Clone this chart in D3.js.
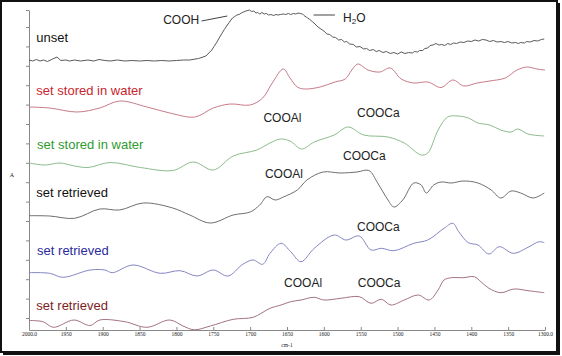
<!DOCTYPE html>
<html><head><meta charset="utf-8">
<script src="https://cdn.jsdelivr.net/npm/d3@7"></script>
<style>html,body{margin:0;padding:0;background:#fff;}svg{display:block;}</style>
</head><body>
<svg id="c" width="562" height="356"></svg>
<script>
// ---- data ----
const xTickValues = [2000,1950,1900,1850,1800,1750,1700,1650,1600,1550,1500,1450,1400,1350,1300];
const xTickLabels = ["2000.0","1950","1900","1850","1800","1750","1700","1650","1600","1550","1500","1450","1400","1350","1300.0"];
const yTickValues = [1.2,3.14,5.08,7.02,8.96,10.9,12.84,14.78,16.72,18.66,20.6,22.54,24.48,26.42,28.36,30.3,32.0];
const seriesNames = ["unset","set stored in water","set stored in water","set retrieved","set retrieved","set retrieved"];

const unsetData = [[2000,27.0],[1995,26.9],[1990,27.05],[1985,26.9],[1980,27.0],[1975,26.85],[1968,27.1],[1962,27.3],[1957,26.95],[1950,27.0],[1945,26.9],[1938,27.0],[1930,26.9],[1920,27.0],[1912,26.9],[1905,27.05],[1897,26.95],[1890,26.9],[1880,27.0],[1870,26.9],[1860,26.95],[1850,26.9],[1840,26.95],[1830,26.9],[1820,26.95],[1810,26.9],[1800,26.95],[1790,27.0],[1782,27.0],[1770,27.15],[1760,27.4],[1756,27.7],[1752,28.0],[1749,28.35],[1745,28.8],[1742,29.2],[1738,29.7],[1735,30.05],[1731,30.5],[1728,30.8],[1724,31.2],[1721,31.35],[1718,31.5],[1715,31.55],[1712,31.7],[1709,31.8],[1706,31.9],[1703,31.95],[1701,32.0],[1698,31.85],[1695,31.9],[1692,31.7],[1690,31.75],[1687,31.6],[1684,31.75],[1681,31.6],[1678,31.65],[1675,31.5],[1672,31.55],[1668,31.45],[1665,31.55],[1662,31.5],[1659,31.55],[1655,31.6],[1652,31.55],[1648,31.65],[1645,31.55],[1641,31.65],[1638,31.6],[1635,31.7],[1632,31.65],[1629,31.6],[1627,31.45],[1624,31.3],[1622,31.2],[1619,31.05],[1615,30.8],[1612,30.6],[1608,30.3],[1604,30.1],[1600,29.9],[1596,29.6],[1592,29.55],[1588,29.3],[1584,29.25],[1580,29.0],[1576,29.05],[1572,28.8],[1569,28.85],[1565,28.6],[1560,28.55],[1556,28.3],[1551,28.35],[1546,28.1],[1542,28.15],[1538,27.95],[1533,28.05],[1529,27.85],[1525,27.95],[1520,27.75],[1515,27.85],[1510,27.65],[1505,27.75],[1500,27.6],[1495,27.8],[1490,27.65],[1485,27.75],[1480,27.7],[1477,27.85],[1473,27.8],[1470,27.95],[1466,27.95],[1463,28.15],[1459,28.2],[1456,28.45],[1452,28.5],[1448,28.65],[1444,28.5],[1440,28.55],[1436,28.45],[1432,28.65],[1428,28.55],[1424,28.7],[1420,28.65],[1415,28.8],[1410,28.75],[1405,28.9],[1400,28.85],[1395,29.0],[1390,28.9],[1385,29.05],[1380,29.0],[1375,28.85],[1370,28.95],[1365,28.8],[1360,28.85],[1355,28.75],[1350,28.85],[1345,28.7],[1340,28.75],[1336,28.65],[1333,28.75],[1328,28.7],[1325,28.85],[1320,28.8],[1315,28.95],[1310,28.9],[1305,29.05],[1301,29.1]];

const waterRedData = [[2000,22.3],[1972,22.2],[1935,21.8],[1904,22.2],[1877,22.9],[1840,22.3],[1809,21.7],[1775,21.3],[1750,22.2],[1727,22.6],[1700,22.5],[1683,23.2],[1670,24.7],[1655,26.1],[1646,25.2],[1636,24.3],[1626,24.1],[1605,24.3],[1585,24.8],[1571,25.1],[1562,26.0],[1554,26.6],[1540,26.0],[1524,25.8],[1510,26.2],[1495,25.1],[1478,24.7],[1459,24.8],[1441,24.25],[1425,25.0],[1410,24.4],[1392,24.7],[1375,24.9],[1354,25.2],[1338,26.0],[1324,26.3],[1311,26.1],[1300,26.0]];

const waterGreenData = [[2000,16.7],[1978,16.5],[1958,16.7],[1938,16.4],[1920,16.25],[1890,16.75],[1849,16.25],[1805,15.95],[1777,16.8],[1750,16.0],[1723,17.4],[1691,18.0],[1673,18.7],[1659,19.1],[1646,18.9],[1630,18.1],[1613,18.8],[1586,19.5],[1567,20.3],[1546,19.5],[1513,19.3],[1491,18.7],[1468,17.5],[1459,17.7],[1445,20.0],[1432,21.3],[1418,21.4],[1404,21.2],[1391,20.7],[1375,20.5],[1360,20.0],[1346,19.8],[1337,20.1],[1323,19.6],[1301,19.4]];

const retrievedBlackData = [[2000,11.43],[1972,11.4],[1938,11.17],[1904,12.1],[1877,12.0],[1845,12.7],[1805,12.2],[1782,11.5],[1754,10.7],[1723,11.5],[1700,11.8],[1687,12.5],[1677,13.33],[1666,13.0],[1655,13.3],[1636,14.0],[1623,15.0],[1601,15.8],[1578,15.7],[1555,15.8],[1539,15.95],[1527,14.7],[1513,13.0],[1505,12.3],[1493,13.0],[1478,14.7],[1468,14.5],[1461,13.7],[1451,14.5],[1441,14.8],[1427,14.7],[1411,14.9],[1391,14.7],[1373,14.0],[1360,13.2],[1346,13.9],[1333,13.7],[1316,13.2],[1301,13.7]];

const retrievedBlueData = [[2000,5.73],[1972,5.67],[1954,5.27],[1917,6.0],[1897,6.0],[1887,5.73],[1859,6.5],[1822,5.67],[1795,5.93],[1772,5.4],[1750,6.0],[1730,5.4],[1710,6.57],[1696,7.0],[1683,6.57],[1673,7.67],[1658,8.67],[1645,7.83],[1631,6.83],[1613,8.17],[1586,9.5],[1570,9.0],[1552,9.4],[1536,8.0],[1522,8.17],[1505,7.93],[1478,8.67],[1459,9.0],[1437,10.17],[1425,10.67],[1417,9.83],[1404,8.73],[1391,8.5],[1376,7.6],[1362,8.33],[1343,7.67],[1323,8.27],[1308,8.83],[1301,8.73]];

const retrievedRedData = [[2000,0.95],[1981,0.83],[1967,0.27],[1939,1.0],[1917,0.45],[1904,1.0],[1870,0.83],[1840,0.27],[1809,1.0],[1791,0.4],[1776,0.02],[1754,0.4],[1723,1.07],[1696,1.27],[1673,2.17],[1658,2.5],[1645,2.83],[1631,3.0],[1613,3.27],[1600,3.0],[1577,3.17],[1552,3.33],[1536,2.67],[1522,3.07],[1509,2.5],[1491,3.0],[1472,3.5],[1457,3.0],[1445,4.0],[1437,5.0],[1427,5.23],[1411,5.23],[1396,5.33],[1387,4.83],[1376,4.17],[1360,3.73],[1342,4.1],[1323,3.93],[1301,3.73]];

// annotations: [text, wavenumber, value]
const annotations = [["COOH",1818,30.6],["COOAl",1682,20.85],["COOCa",1555,21.3],["COOAl",1680,15.2],["COOCa",1574,17.0],["COOCa",1555,9.9],["COOAl",1654,4.3],["COOCa",1554,4.3]];

// ---- drawing ----
const svg = d3.select("#c");
const x = d3.scaleLinear().domain([2000,1300]).range([29,545]);
const y = d3.scaleLinear().domain([0,32]).range([330,10]);

// frame
svg.append("rect").attr("x",1).attr("y",1).attr("width",556).attr("height",351)
  .attr("fill","none").attr("stroke","#111").attr("stroke-width",2);
svg.append("rect").attr("x",557).attr("y",3).attr("width",3).attr("height",352).attr("fill","#111");
svg.append("rect").attr("x",3).attr("y",352).attr("width",557).attr("height",3).attr("fill","#111");

// axes
const xAxis = d3.axisBottom(x).tickValues(xTickValues).tickSizeInner(-3).tickSizeOuter(0)
  .tickPadding(4).tickFormat((d,i)=>xTickLabels[i]);
const gx = svg.append("g").attr("transform","translate(0,330)").call(xAxis);
gx.selectAll("path,line").attr("stroke","#888");
gx.selectAll("text").attr("font-family","Liberation Serif").attr("font-size",5.5).attr("fill","#222").attr("dy","0.4em");

const yAxis = d3.axisLeft(y).tickValues(yTickValues).tickSizeInner(3).tickSizeOuter(0).tickFormat("");
const gy = svg.append("g").attr("transform","translate(29,0)").call(yAxis);
gy.selectAll("path,line").attr("stroke","#888");

svg.append("text").attr("x",287).attr("y",347).attr("text-anchor","middle")
  .attr("font-family","Liberation Serif").attr("font-size",5.5).attr("fill","#222").text("cm-1");
svg.append("text").attr("x",12).attr("y",177).attr("text-anchor","middle")
  .attr("font-family","Liberation Serif").attr("font-size",6).attr("fill","#222").text("A");

// spectra
const series = [
  {data: unsetData, color:"#5a5a5a", curve: d3.curveLinear},
  {data: waterRedData, color:"#c87a88", curve: d3.curveCatmullRom.alpha(0.5)},
  {data: waterGreenData, color:"#8cbc8c", curve: d3.curveCatmullRom.alpha(0.5)},
  {data: retrievedBlackData, color:"#6e6e6e", curve: d3.curveCatmullRom.alpha(0.5)},
  {data: retrievedBlueData, color:"#8585c4", curve: d3.curveCatmullRom.alpha(0.5)},
  {data: retrievedRedData, color:"#a4737e", curve: d3.curveCatmullRom.alpha(0.5)}
];
series.forEach(s=>{
  const line = d3.line().x(d=>x(d[0])).y(d=>y(d[1])).curve(s.curve);
  svg.append("path").datum(s.data).attr("d",line).attr("fill","none")
    .attr("stroke",s.color).attr("stroke-width",1);
});

// series labels: [wavenumber, value, color]
const labelPos = [[1990,28.8,"#111"],[1990,23.5,"#c8262e"],[1989,18.1,"#2f9a2f"],[1990,13.35,"#111"],[1989,7.55,"#2b2b9e"],[1990,2.0,"#7d1d24"]];
seriesNames.forEach((n,i)=>{
  svg.append("text").attr("x",x(labelPos[i][0])).attr("y",y(labelPos[i][1]))
    .attr("font-family","Liberation Sans, Arial, sans-serif").attr("font-size",13)
    .attr("fill",labelPos[i][2]).text(n);
});

// annotations
const af = "Liberation Sans, Arial, sans-serif";
annotations.forEach(a=>{
  svg.append("text").attr("x",x(a[1])).attr("y",y(a[2])).attr("font-family",af)
    .attr("font-size",12).attr("fill","#222").text(a[0]);
});
const h2o = svg.append("text").attr("x",x(1574)).attr("y",y(30.8)).attr("font-family",af)
  .attr("font-size",12).attr("fill","#222");
h2o.append("tspan").text("H");
h2o.append("tspan").attr("font-size",8).attr("dy",2).text("2");
h2o.append("tspan").attr("dy",-2).text("O");

// leader lines
svg.append("line").attr("x1",x(1766)).attr("y1",y(30.9)).attr("x2",x(1731)).attr("y2",y(31.4))
  .attr("stroke","#444").attr("stroke-width",1);
svg.append("line").attr("x1",x(1614)).attr("y1",y(31.5)).attr("x2",x(1585)).attr("y2",y(31.5))
  .attr("stroke","#444").attr("stroke-width",1);
</script>
</body></html>
